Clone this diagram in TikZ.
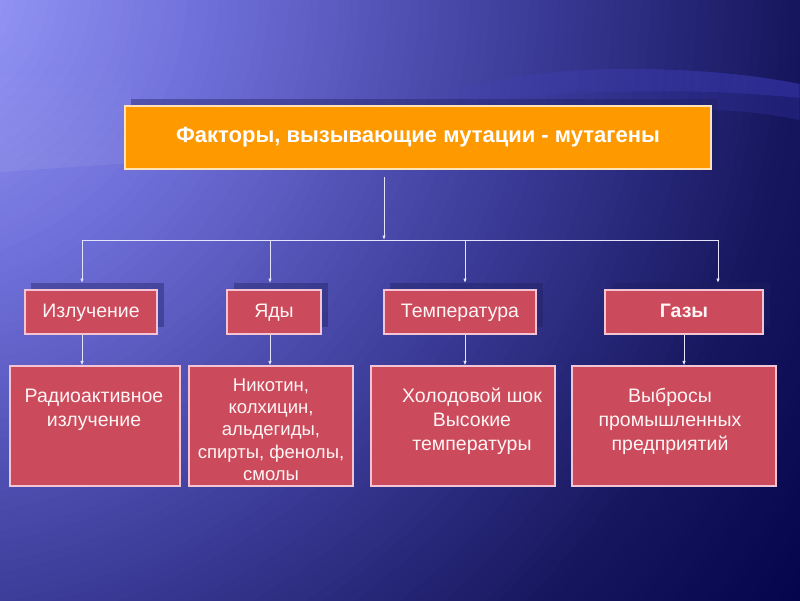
\documentclass[tikz,border=0pt]{standalone}
\usepackage{fontspec}
\setmainfont{Liberation Sans}
\usetikzlibrary{arrows.meta,fadings}
\definecolor{bgA}{HTML}{A2A4FF}
\definecolor{bgB}{HTML}{6E6ED8}
\definecolor{bgC}{HTML}{3E3E9C}
\definecolor{bgD}{HTML}{16165E}
\definecolor{bgE}{HTML}{000048}
\definecolor{bandc}{HTML}{4E4EE8}
\definecolor{orangebox}{HTML}{FF9900}
\definecolor{redbox}{HTML}{CB4A5B}
\definecolor{rededge}{HTML}{F2C4D4}
\definecolor{orangeedge}{HTML}{FFE2B8}
\definecolor{connc}{HTML}{E4E4FF}
\definecolor{shadowc}{HTML}{1E1E60}
\tikzfading[name=fadeinright, left color=transparent!100, right color=transparent!0]
\tikzfading[name=fadeinbottom, top color=transparent!100, bottom color=transparent!0]
\tikzset{
  shadowbox/.style={fill=shadowc, fill opacity=0.4},
  titlebox/.style={draw=orangeedge, line width=1.2pt, fill=orangebox, text=white, inner sep=0pt,
    font=\fontsize{22}{26}\selectfont\bfseries},
  catbox/.style={draw=rededge, line width=1.1pt, fill=redbox, text=white!96!red, inner sep=0pt,
    font=\fontsize{19.5}{24}\selectfont, minimum height=44pt, text height=14pt, text depth=3pt},
  detbox/.style={draw=rededge, line width=1.1pt, fill=redbox, inner sep=0pt, minimum height=120pt},
  dettext/.style={text=white!96!red, inner sep=0pt, align=center, anchor=north},
  conn/.style={draw=connc, line width=0.9pt, -{Latex[length=4.5pt,width=3.5pt]}},
  busline/.style={draw=connc, line width=0.9pt}
}
\begin{document}
\begin{tikzpicture}[x=1pt,y=-1pt]
\useasboundingbox (0,0) rectangle (800,600);
% background
\begin{scope}
\clip (0,0) rectangle (800,600);
\fill[bgE] (0,0) rectangle (800,600);
\foreach \k in {0,...,29}{
  \pgfmathsetmacro\r{1150-\k*250/30}\pgfmathsetmacro\p{100*\k/30}
  \fill[bgD!\p!bgE] (-100,-20) circle[radius=\r pt];}
\foreach \k in {0,...,29}{
  \pgfmathsetmacro\r{900-\k*280/30}\pgfmathsetmacro\p{100*\k/30}
  \fill[bgC!\p!bgD] (-100,-20) circle[radius=\r pt];}
\foreach \k in {0,...,29}{
  \pgfmathsetmacro\r{620-\k*300/30}\pgfmathsetmacro\p{100*\k/30}
  \fill[bgB!\p!bgC] (-100,-20) circle[radius=\r pt];}
\foreach \k in {0,...,29}{
  \pgfmathsetmacro\r{320-\k*320/30}\pgfmathsetmacro\p{100*\k/30}
  \fill[bgA!\p!bgB] (-100,-20) circle[radius=\r pt];}
% swoosh band (right part, fading out to the left)
\fill[bandc, fill opacity=0.38, path fading=fadeinright] (400,101)
  .. controls (470,84) and (540,70) .. (610,69)
  .. controls (700,68) and (760,76) .. (800,84) -- (800,98)
  .. controls (740,92) and (680,90) .. (610,92)
  .. controls (520,95) and (460,104) .. (400,112) -- cycle;
\fill[bandc, fill opacity=0.18, path fading=fadeinright] (400,112)
  .. controls (460,104) and (520,95) .. (610,92)
  .. controls (680,90) and (740,92) .. (800,98) -- (800,120)
  .. controls (760,112) and (730,110) .. (700,110) -- (400,116) -- cycle;
% swoosh band (left part)
\fill[white, fill opacity=0.07, path fading=fadeinbottom] (0,60) -- (131,60) -- (131,163) -- (0,172) -- cycle;
\end{scope}

% title
\fill[shadowbox] (131,99) rectangle (717,162);
\node[titlebox, minimum width=586pt, minimum height=63pt] (title) at (418,137.5)
  {Факторы, вызывающие мутации - мутагены};

% category shadows
\fill[shadowbox] (31,283) rectangle (164,327);
\fill[shadowbox] (234,283) rectangle (328,327);
\fill[shadowbox] (390,283) rectangle (543,327);
\fill[shadowbox] (612,283) rectangle (770,327);

% categories
\node[catbox, minimum width=132pt] (cat1) at (91,312) {Излучение};
\node[catbox, minimum width=94pt] (cat2) at (274,312) {Яды};
\node[catbox, minimum width=152pt] (cat3) at (460,312) {Температура};
\node[catbox, minimum width=158pt, font=\fontsize{19.5}{24}\selectfont\bfseries] (cat4) at (684,312) {Газы};

% details
\node[detbox, minimum width=170pt] (det1) at (95,426) {};
\node[detbox, minimum width=164pt] (det2) at (271,426) {};
\node[detbox, minimum width=184pt] (det3) at (463,426) {};
\node[detbox, minimum width=204pt] (det4) at (674,426) {};

\node[dettext, font=\fontsize{19.5}{24}\selectfont] (txt1) at (94,384)
  {\rule{0pt}{18.5pt}Радиоактивное\\излучение};
\node[dettext, font=\fontsize{18.5}{22.3}\selectfont] (txt2) at (271,373.5)
  {\rule{0pt}{17.5pt}Никотин,\\колхицин,\\альдегиды,\\спирты, фенолы,\\смолы};
\node[dettext, font=\fontsize{19.5}{24}\selectfont] (txt3) at (472,384)
  {\rule{0pt}{18.5pt}Холодовой шок\\Высокие\\температуры};
\node[dettext, font=\fontsize{19.5}{24}\selectfont] (txt4) at (670,384)
  {\rule{0pt}{18.5pt}Выбросы\\промышленных\\предприятий};

% connectors
\coordinate (t0) at (384,177);
\coordinate (t1) at (384,240);
\coordinate (d1) at (82,240);
\coordinate (d2) at (270,240);
\coordinate (d3) at (465,240);
\coordinate (d4) at (718,240);
\coordinate (a1) at (82,283);
\coordinate (a2) at (270,283);
\coordinate (a3) at (465,283);
\coordinate (a4) at (718,283);
\coordinate (e4) at (684,240);

\draw[conn] (t0) -- (t1);
\draw[busline] (d1) -- (d4);
\draw[conn] (d1) -- (a1);
\draw[conn] (d2) -- (a2);
\draw[conn] (d3) -- (a3);
\draw[conn] (d4) -- (a4);

\draw[conn] (cat1.south -| d1) -- (det1.north -| d1);
\draw[conn] (cat2.south -| d2) -- (det2.north -| d2);
\draw[conn] (cat3.south -| d3) -- (det3.north -| d3);
\draw[conn] (cat4.south -| e4) -- (det4.north -| e4);
\end{tikzpicture}
\end{document}
